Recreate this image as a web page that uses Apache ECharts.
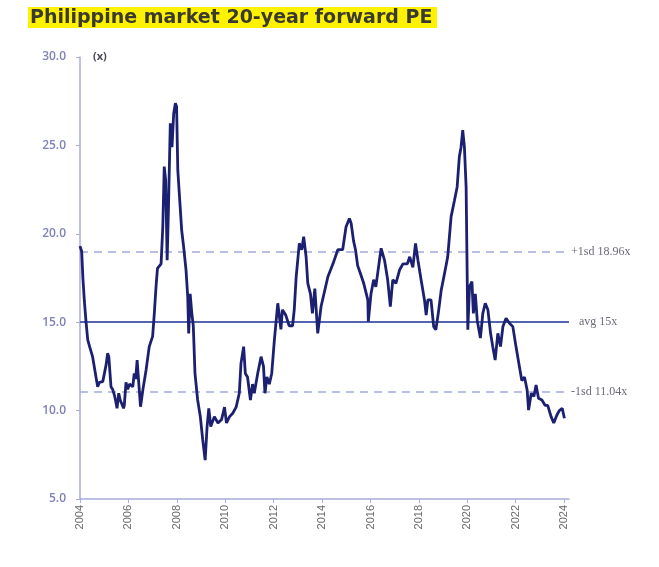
<!DOCTYPE html>
<html>
<head>
<meta charset="utf-8">
<script src="https://cdn.jsdelivr.net/npm/echarts@6/dist/echarts.min.js"></script>
<style>
html,body{margin:0;padding:0;background:#fff;}
#chart{width:659px;height:567px;}
</style>
</head>
<body>
<div id="chart"></div>
<script>
var titleText = 'Philippine market 20-year forward PE';
var yearTicks = [2004,2006,2008,2010,2012,2014,2016,2018,2020,2022,2024];
var years = [2004.00,2004.07,2004.12,2004.18,2004.25,2004.32,2004.40,2004.52,2004.60,2004.66,2004.73,2004.80,2004.87,2004.94,2005.00,2005.08,2005.14,2005.19,2005.28,2005.35,2005.42,2005.48,2005.53,2005.60,2005.66,2005.72,2005.80,2005.83,2005.90,2005.97,2006.05,2006.18,2006.24,2006.30,2006.36,2006.42,2006.50,2006.60,2006.73,2006.86,2007.00,2007.07,2007.14,2007.20,2007.35,2007.42,2007.48,2007.54,2007.60,2007.65,2007.73,2007.80,2007.87,2007.94,2007.99,2008.04,2008.12,2008.20,2008.28,2008.38,2008.45,2008.49,2008.55,2008.62,2008.68,2008.75,2008.86,2008.97,2009.07,2009.17,2009.25,2009.32,2009.40,2009.55,2009.70,2009.85,2009.97,2010.05,2010.18,2010.31,2010.45,2010.58,2010.65,2010.76,2010.83,2010.92,2011.04,2011.13,2011.20,2011.34,2011.48,2011.58,2011.64,2011.72,2011.82,2011.92,2012.03,2012.17,2012.30,2012.36,2012.50,2012.64,2012.78,2012.85,2012.93,2013.06,2013.16,2013.24,2013.34,2013.41,2013.52,2013.60,2013.70,2013.82,2013.96,2014.24,2014.45,2014.65,2014.85,2014.99,2015.13,2015.20,2015.30,2015.38,2015.47,2015.58,2015.72,2015.89,2015.91,2016.02,2016.13,2016.22,2016.37,2016.44,2016.58,2016.71,2016.82,2016.92,2017.05,2017.20,2017.34,2017.52,2017.62,2017.75,2017.86,2017.96,2018.09,2018.23,2018.30,2018.37,2018.50,2018.61,2018.70,2018.80,2018.92,2019.06,2019.19,2019.33,2019.47,2019.58,2019.67,2019.74,2019.81,2019.88,2019.95,2019.99,2020.02,2020.09,2020.19,2020.25,2020.33,2020.41,2020.54,2020.64,2020.74,2020.85,2020.96,2021.05,2021.15,2021.26,2021.37,2021.47,2021.60,2021.74,2021.88,2022.01,2022.15,2022.25,2022.36,2022.47,2022.53,2022.64,2022.75,2022.84,2022.94,2023.08,2023.21,2023.32,2023.46,2023.57,2023.70,2023.80,2023.92,2024.01];
var pe = [19.3,19.0,17.5,16.2,15.0,14.0,13.6,13.05,12.4,11.9,11.35,11.6,11.5,11.64,11.7,12.6,13.24,13.05,11.35,11.2,10.88,10.5,10.13,10.98,10.6,10.4,10.13,10.3,11.6,11.2,11.5,11.35,12.1,11.8,12.86,11.7,10.22,11.2,12.3,13.62,14.2,15.5,17.0,18.05,18.3,20.4,23.8,23.0,18.5,21.16,26.25,24.9,26.8,27.38,27.2,23.6,23.6,20.2,19.27,17.95,16.44,14.37,16.6,15.5,14.8,12.1,10.6,9.66,8.34,7.2,9.1,10.13,9.1,9.66,9.3,9.5,10.2,9.3,9.66,9.85,10.2,10.98,12.67,13.62,12.1,11.9,10.6,11.5,10.98,12.1,13.05,12.5,10.98,11.9,11.5,12.1,14.0,16.07,14.6,15.7,15.4,14.8,14.8,15.7,17.57,19.46,19.1,19.84,18.7,17.2,16.6,15.5,16.9,14.37,15.9,17.57,18.3,19.1,19.1,20.4,20.87,20.6,19.6,19.1,18.2,17.77,17.2,16.26,15.03,16.6,17.4,17.0,18.5,19.18,18.5,17.4,15.88,17.4,17.2,17.95,18.3,18.3,18.7,18.1,19.46,18.5,17.4,16.26,15.4,16.26,16.26,14.75,14.57,15.5,16.8,17.77,18.7,20.97,21.9,22.65,24.36,24.9,25.87,24.9,22.65,18.1,14.57,17.0,17.3,15.5,16.6,15.1,14.1,15.5,16.07,15.7,14.37,13.62,12.86,14.37,13.62,14.75,15.22,14.94,14.75,13.62,12.5,11.7,11.9,11.17,10.03,10.98,10.8,11.45,10.7,10.6,10.3,10.3,9.66,9.3,9.75,10.0,10.13,9.57];
var avgPE = 15;
var plus1sd = 18.96;
var minus1sd = 11.04;
var refLabels = ['+1sd 18.96x', 'avg 15x', '-1sd 11.04x'];

var chart = echarts.init(document.getElementById('chart'), null, {renderer: 'canvas'});
var seriesData = years.map(function (y, i) { return [y, pe[i]]; });
var axisColor = '#a9acd8';
var refLabelStyle = {fontFamily: 'Liberation Serif', fontSize: 12, color: '#6b6b7a'};

chart.setOption({
  animation: false,
  backgroundColor: '#ffffff',
  graphic: [
    {
      type: 'rect',
      left: 28,
      top: 7,
      shape: {width: 409, height: 21},
      style: {fill: '#fff200'},
      z: 1
    },
    {
      type: 'text',
      x: 30,
      y: 18,
      style: {text: titleText, font: 'bold 19px "DejaVu Sans"', fill: '#3a3a30', verticalAlign: 'middle'},
      z: 2
    },
    {
      type: 'text',
      left: 93,
      top: 51,
      style: {text: '(x)', font: 'bold 11px "Open Sans"', fill: '#4a4a5a'}
    }
  ],
  grid: {left: 80, top: 57, width: 489, height: 442, containLabel: false},
  xAxis: {
    type: 'value',
    min: 2004,
    max: 2024.2,
    splitLine: {show: false},
    axisLine: {show: true, lineStyle: {color: axisColor, width: 1.5}},
    axisTick: {show: true, customValues: yearTicks, length: 4, lineStyle: {color: axisColor}},
    axisLabel: {
      customValues: yearTicks,
      rotate: 90,
      margin: 6,
      fontFamily: 'Liberation Sans',
      fontSize: 11,
      color: '#6a6a6a',
      formatter: function (v) { return String(Math.round(v)); }
    }
  },
  yAxis: {
    type: 'value',
    min: 5,
    max: 30,
    interval: 5,
    splitLine: {show: false},
    axisLine: {show: true, lineStyle: {color: axisColor, width: 1.5}},
    axisTick: {show: true, length: 4, lineStyle: {color: axisColor}},
    axisLabel: {
      margin: 14,
      fontFamily: 'Open Sans',
      fontSize: 12,
      fontWeight: 600,
      color: '#7f82b6',
      formatter: function (v) { return v.toFixed(1); }
    }
  },
  series: [{
    type: 'line',
    data: seriesData,
    showSymbol: false,
    symbol: 'none',
    lineStyle: {color: '#1c2070', width: 2.8},
    z: 5,
    markLine: {
      silent: true,
      symbol: ['none', 'none'],
      animation: false,
      data: [
        {yAxis: plus1sd, lineStyle: {type: [8, 6], color: '#a3abda', width: 1.5},
          label: Object.assign({show: true, position: 'end', distance: 2, formatter: refLabels[0]}, refLabelStyle)},
        {yAxis: avgPE, lineStyle: {type: 'solid', color: '#5364b3', width: 2},
          label: Object.assign({show: true, position: 'end', distance: 10, formatter: refLabels[1]}, refLabelStyle)},
        {yAxis: minus1sd, lineStyle: {type: [8, 6], color: '#a3abda', width: 1.5},
          label: Object.assign({show: true, position: 'end', distance: 2, formatter: refLabels[2]}, refLabelStyle)}
      ]
    }
  }]
});
</script>
</body>
</html>
